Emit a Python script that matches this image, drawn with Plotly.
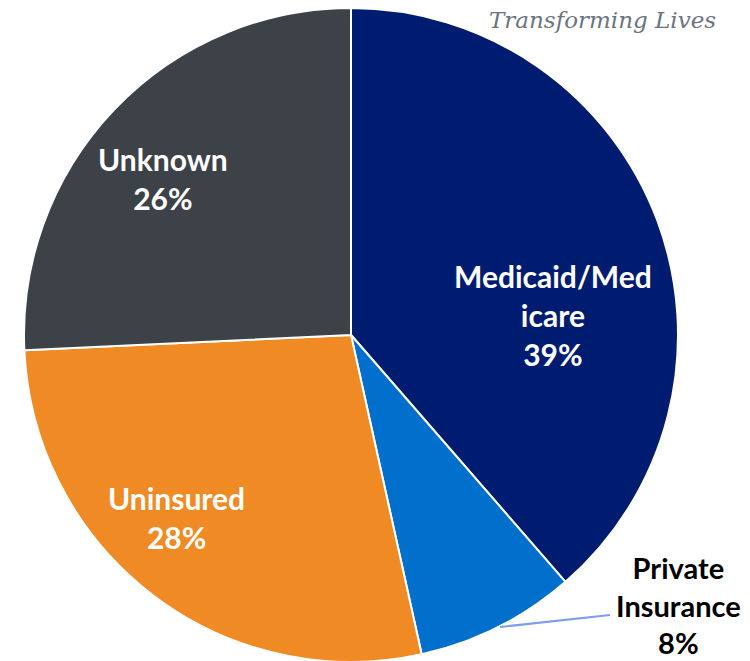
import plotly.graph_objects as go

categories = ["Medicaid/Medicare", "Private Insurance", "Uninsured", "Unknown"]
label_text = ["Medicaid/Med<br>icare", "Private<br>Insurance", "Uninsured", "Unknown"]
values = [39, 8, 28, 26]
colors = ["#001C71", "#0070CC", "#F08A24", "#3D4148"]
pct_labels = ["39%", "8%", "28%", "26%"]

W, H = 750, 661
# label centres in figure pixels, font colours and sizes
label_px = [(545, 307), (670, 597), (168, 509), (155, 170)]
label_colors = ["white", "black", "white", "white"]
label_sizes = [30, 29, 30, 30]

fig = go.Figure()
fig.add_trace(go.Pie(
    labels=categories,
    values=values,
    marker=dict(colors=colors, line=dict(color="white", width=2)),
    sort=False,
    direction="clockwise",
    rotation=0,
    textinfo="none",
    hoverinfo="label+percent",
    domain=dict(x=[16 / W, 670 / W], y=[7 / H, 1.0]),
    showlegend=False,
))

for txt, pct, (px, py), c, s in zip(label_text, pct_labels, label_px, label_colors, label_sizes):
    fig.add_annotation(
        x=px / W, y=1 - py / H, xref="paper", yref="paper",
        xanchor="center", yanchor="middle",
        text=f"<b>{txt}<br>{pct}</b>",
        showarrow=False,
        font=dict(family="Lato, Open Sans, sans-serif", size=s, color=c),
        align="center",
    )

# leader line for Private Insurance
fig.add_shape(type="line", xref="paper", yref="paper",
              x0=492 / W, y0=1 - 619 / H, x1=602 / W, y1=1 - 607 / H,
              line=dict(color="#7B9CF0", width=2))

fig.add_annotation(
    x=710 / W, y=1 - 12 / H, xref="paper", yref="paper",
    xanchor="right", yanchor="middle",
    text="<i>Transforming Lives</i>", showarrow=False,
    font=dict(family="DejaVu Serif, serif", size=23, color="#6B7380"),
)

fig.update_layout(
    width=W, height=H,
    margin=dict(l=0, r=0, t=0, b=0),
    paper_bgcolor="white",
    plot_bgcolor="white",
)

fig.write_html("out.html")
